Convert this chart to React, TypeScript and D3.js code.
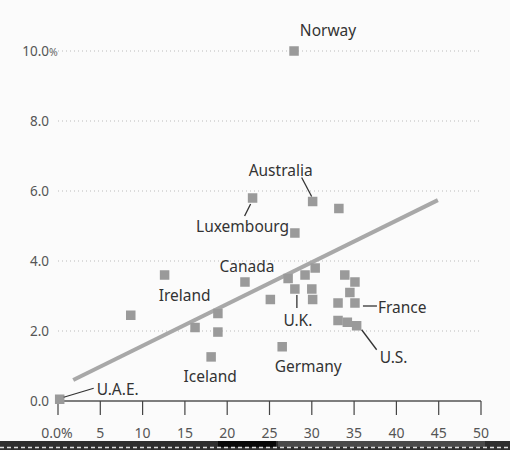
import React from "react";
import * as d3 from "d3";

const xTicks = [0, 5, 10, 15, 20, 25, 30, 35, 40, 45, 50];
const xTickLabels = ["0.0%", "5", "10", "15", "20", "25", "30", "35", "40", "45", "50"];
const yTicks = [0, 2, 4, 6, 8, 10];
const yTickLabels = ["0.0", "2.0", "4.0", "6.0", "8.0", "10.0"];

const countries = [
  "Norway", "Australia", "", "Luxembourg", "", "Canada", "Ireland", "", "", "", "", "Iceland", "U.A.E.",
  "Germany", "", "", "U.K.", "", "", "", "", "", "", "", "France", "", "", "", "U.S.",
];
const xValues = [
  27.9, 30.1, 33.2, 23.0, 28.0, 22.1, 12.6, 8.6, 16.2, 18.9, 18.9, 18.1, 0.2,
  26.5, 25.1, 27.2, 28.0, 29.2, 30.4, 30.0, 30.1, 33.9, 35.1, 34.5, 35.1, 33.1, 33.1, 34.2, 35.3,
];
const yValues = [
  10.0, 5.7, 5.5, 5.8, 4.8, 3.4, 3.6, 2.45, 2.1, 2.5, 1.97, 1.26, 0.05,
  1.55, 2.9, 3.5, 3.2, 3.6, 3.8, 3.2, 2.9, 3.6, 3.4, 3.1, 2.8, 2.8, 2.3, 2.25, 2.15,
];
const trendX = [1.8, 44.9];
const trendY = [0.6, 5.74];

const labelLayout: Record<string, { dx: number; dy: number; anchor: string; leader?: number[] }> = {
  Norway: { dx: 34, dy: -21, anchor: "middle" },
  Australia: { dx: -32, dy: -31, anchor: "middle", leader: [-11, -24, -1, -5] },
  Luxembourg: { dx: -10, dy: 28, anchor: "middle", leader: [-8, 18, -2, 6] },
  Canada: { dx: 2, dy: -16, anchor: "middle" },
  Ireland: { dx: 20, dy: 20, anchor: "middle" },
  Iceland: { dx: -1, dy: 20, anchor: "middle" },
  "U.A.E.": { dx: 37, dy: -10, anchor: "start", leader: [34, -11, 4, -2] },
  Germany: { dx: 26, dy: 20, anchor: "middle" },
  "U.K.": { dx: 3, dy: 31, anchor: "middle", leader: [2, 6, 2, 19] },
  France: { dx: 23, dy: 4, anchor: "start", leader: [8, 3, 22, 3] },
  "U.S.": { dx: 23, dy: 32, anchor: "start", leader: [5, 4, 20, 24] },
};

export default function App() {
  const x = d3.scaleLinear().domain([0, 50]).range([58, 481]);
  const y = d3.scaleLinear().domain([0, 10]).range([401, 51]);
  const line = d3
    .line<number>()
    .x((d) => x(trendX[d]))
    .y((d) => y(trendY[d]));
  const sq = 9.5;
  const labelFont = "'Noto Sans', 'DejaVu Sans', sans-serif";

  return (
    <svg
      width={510}
      height={450}
      style={{ position: "absolute", left: 0, top: 0, background: "#fcfcfc" }}
    >
      <rect x={0} y={0} width={510} height={450} fill="#fbfbfb" />
      {yTicks.filter((t) => t > 0).map((t) => (
        <line
          key={t}
          x1={58}
          x2={481}
          y1={y(t)}
          y2={y(t)}
          stroke="#bbb"
          strokeWidth={1}
          strokeDasharray="1,3"
        />
      ))}
      {yTicks.map((t, i) => (
        <text
          key={t}
          x={49}
          y={y(t) + 5}
          textAnchor="end"
          fontFamily={labelFont}
          fontSize={13.5}
          fill="#555"
        >
          {yTickLabels[i]}
        </text>
      ))}
      <text x={49} y={y(10) + 5} fontFamily={labelFont} fontSize={10.5} fill="#666">
        %
      </text>
      <line x1={x(0)} x2={x(50)} y1={y(0)} y2={y(0)} stroke="#555" strokeWidth={1.5} />
      {xTicks.map((t, i) => (
        <g key={t}>
          <line x1={x(t)} x2={x(t)} y1={y(0)} y2={y(0) + 14} stroke="#444" strokeWidth={1.2} />
          <text
            x={x(t) - (i === 0 ? 1 : 0)}
            y={438}
            textAnchor="middle"
            fontFamily={labelFont}
            fontSize={14}
            fill="#555"
          >
            {xTickLabels[i]}
          </text>
        </g>
      ))}
      <path d={line([0, 1]) || ""} stroke="#a8a8a8" strokeWidth={4} fill="none" />
      {xValues.map((xv, i) => (
        <rect
          key={i}
          x={x(xv) - sq / 2}
          y={y(yValues[i]) - sq / 2}
          width={sq}
          height={sq}
          fill="#9a9a9a"
        />
      ))}
      {countries.map((c, i) => {
        if (!c) return null;
        const L = labelLayout[c];
        const px = x(xValues[i]);
        const py = y(yValues[i]);
        return (
          <g key={c}>
            {L.leader && (
              <line
                x1={px + L.leader[0]}
                y1={py + L.leader[1]}
                x2={px + L.leader[2]}
                y2={py + L.leader[3]}
                stroke="#333"
                strokeWidth={1.3}
              />
            )}
            <text
              x={px + L.dx}
              y={py + L.dy + 5.5}
              textAnchor={L.anchor as any}
              fontFamily={labelFont}
              fontSize={15.5}
              fill="#333"
            >
              {c}
            </text>
          </g>
        );
      })}
      <rect x={0} y={441} width={510} height={9} fill="#2e2e2e" />
      <rect x={218} y={441} width={58} height={6} fill="#080808" />
      <rect x={278} y={441} width={207} height={6} fill="#4a4a4a" />
      <line x1={0} x2={510} y1={447.5} y2={447.5} stroke="#ddd" strokeWidth={1.5} strokeDasharray="4,3" />
    </svg>
  );
}
